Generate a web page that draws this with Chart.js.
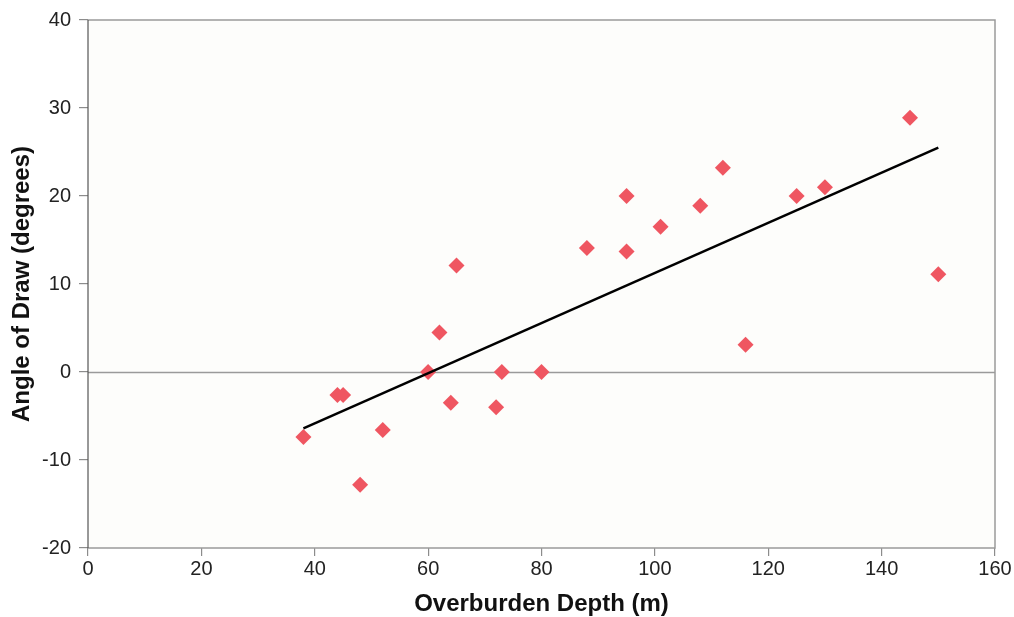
<!DOCTYPE html>
<html>
<head>
<meta charset="utf-8">
<script src="https://cdn.jsdelivr.net/npm/chart.js@4.4.0/dist/chart.umd.min.js"></script>
<style>
  html, body { margin: 0; padding: 0; background: #ffffff; }
  #wrap { width: 1014px; height: 617px; }
</style>
</head>
<body>
<div id="wrap"><canvas id="chart"></canvas></div>
<script>
// overburden depth (m) vs angle of draw (degrees)
const depths = [38, 44, 45, 48, 52, 60, 62, 64, 65, 72, 73, 80, 88, 95, 95, 101, 108, 112, 116, 125, 130, 145, 150];
const angles = [-7.4, -2.6, -2.6, -12.8, -6.6, 0, 4.5, -3.5, 12.1, -4, 0, 0, 14.1, 20, 13.7, 16.5, 18.9, 23.2, 3.1, 20, 21, 28.9, 11.1];

// fitted trend line end points
const trendX = [38, 150];
const trendY = [-6.4, 25.5];

const xTicks = [0, 20, 40, 60, 80, 100, 120, 140, 160];
const yTicks = [-20, -10, 0, 10, 20, 30, 40];

const points = depths.map((d, i) => ({ x: d, y: angles[i] }));
const trend = trendX.map((d, i) => ({ x: d, y: trendY[i] }));

const FONT = 'Liberation Sans, Arial, Helvetica, sans-serif';

// plot background, frame and zero line
const frame = {
  id: 'frame',
  beforeDatasetsDraw(chart) {
    const { ctx, chartArea: a, scales } = chart;
    ctx.save();
    ctx.fillStyle = '#fdfdfb';
    ctx.fillRect(a.left, a.top, a.right - a.left, a.bottom - a.top);
    const y0 = Math.round(scales.y.getPixelForValue(0)) + 0.5;
    ctx.strokeStyle = '#9a9a9a';
    ctx.lineWidth = 1.5;
    ctx.beginPath();
    ctx.moveTo(a.left, y0);
    ctx.lineTo(a.right, y0);
    ctx.stroke();
    ctx.beginPath();
    ctx.moveTo(a.left, a.top);
    ctx.lineTo(a.right, a.top);
    ctx.lineTo(a.right, a.bottom);
    ctx.lineTo(a.left, a.bottom);
    ctx.stroke();
    ctx.strokeStyle = '#555555';
    ctx.lineWidth = 1.2;
    ctx.beginPath();
    ctx.moveTo(a.left, a.top);
    ctx.lineTo(a.left, a.bottom);
    ctx.stroke();
    ctx.restore();
  }
};

new Chart(document.getElementById('chart').getContext('2d'), {
  type: 'scatter',
  data: {
    datasets: [
      {
        label: 'Angle of Draw',
        data: points,
        pointStyle: 'rectRot',
        pointRadius: 8,
        pointHoverRadius: 8,
        backgroundColor: '#ef5661',
        borderColor: '#ef5661',
        borderWidth: 0,
        order: 2
      },
      {
        type: 'line',
        label: 'Trend',
        data: trend,
        borderColor: '#000000',
        borderWidth: 2.5,
        pointRadius: 0,
        fill: false,
        order: 1
      }
    ]
  },
  options: {
    responsive: true,
    maintainAspectRatio: false,
    animation: false,
    layout: { padding: { top: 17, right: 19, left: 0, bottom: 0 } },
    plugins: {
      legend: { display: false },
      tooltip: { enabled: false }
    },
    scales: {
      x: {
        type: 'linear',
        min: 0,
        max: 160,
        afterBuildTicks: s => { s.ticks = xTicks.map(v => ({ value: v })); },
        afterFit: s => { s.height = 69; },
        grid: {
          drawOnChartArea: false,
          drawTicks: true,
          tickLength: 8,
          color: '#8c8c8c',
          lineWidth: 1.2
        },
        border: { display: false },
        ticks: {
          color: '#222222',
          padding: 1,
          maxRotation: 0,
          font: { family: FONT, size: 20 }
        },
        title: {
          display: true,
          text: 'Overburden Depth (m)',
          color: '#111111',
          padding: { top: 4, bottom: -2 },
          font: { family: FONT, size: 24, weight: 'bold' }
        }
      },
      y: {
        type: 'linear',
        min: -20,
        max: 40,
        afterBuildTicks: s => { s.ticks = yTicks.map(v => ({ value: v })); },
        afterFit: s => { s.width = 88; },
        grid: {
          drawOnChartArea: false,
          drawTicks: true,
          tickLength: 9,
          color: '#8c8c8c',
          lineWidth: 1.2
        },
        border: { display: false },
        ticks: {
          color: '#222222',
          padding: 8,
          font: { family: FONT, size: 20 }
        },
        title: {
          display: true,
          text: 'Angle of Draw (degrees)',
          color: '#111111',
          padding: { top: 8, bottom: 0 },
          font: { family: FONT, size: 24, weight: 'bold' }
        }
      }
    }
  },
  plugins: [frame]
});
</script>
</body>
</html>
